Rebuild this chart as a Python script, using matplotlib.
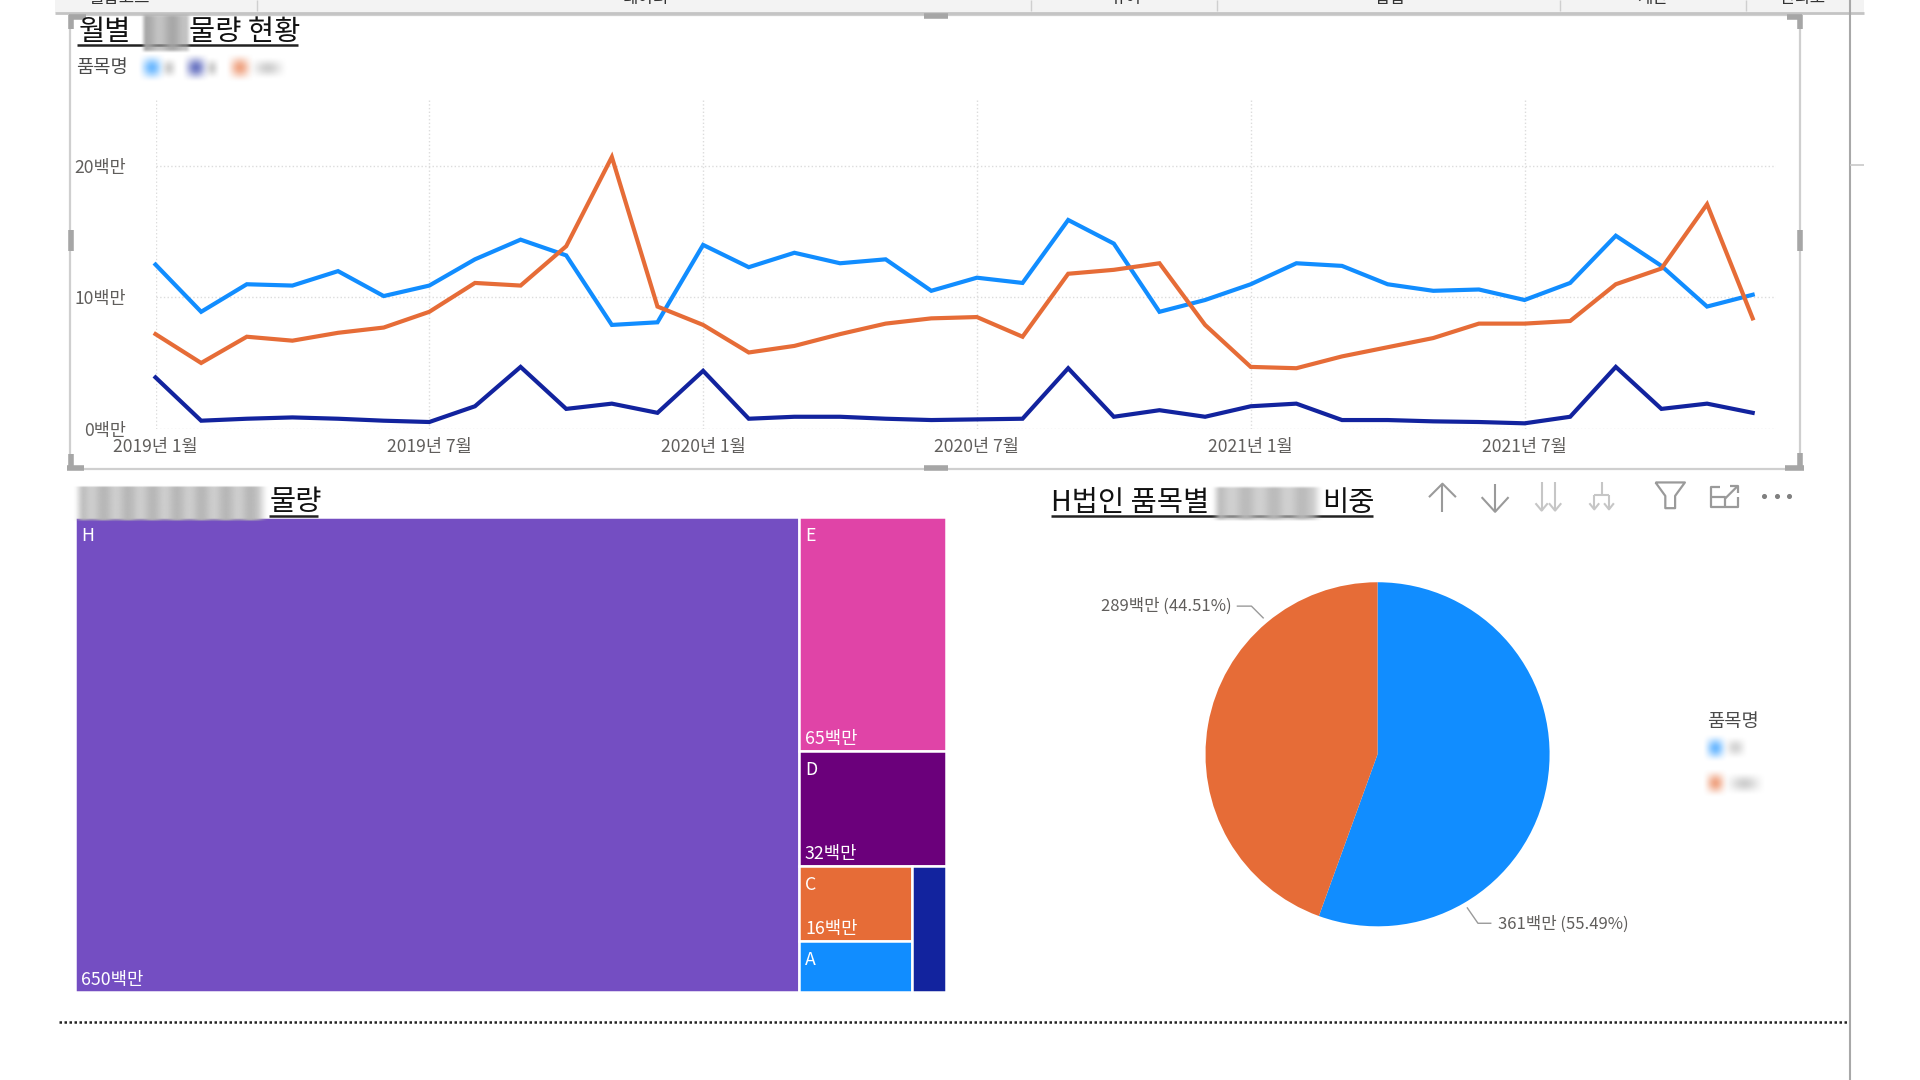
import numpy as np
import matplotlib
matplotlib.use('Agg')
import matplotlib.pyplot as plt
from matplotlib.patches import Rectangle

plt.rcParams['font.family'] = ['Noto Sans CJK KR', 'DejaVu Sans']

# monthly values, millions
month_labels = ['2019년 1월', '2019년 7월', '2020년 1월', '2020년 7월', '2021년 1월', '2021년 7월']
month_ticks = [0, 6, 12, 18, 24, 30]
blue_vals = [12.5, 8.9, 11.0, 10.9, 12.0, 10.1, 10.9, 12.9, 14.4, 13.2, 7.9, 8.1,
             14.0, 12.3, 13.4, 12.6, 12.9, 10.5, 11.5, 11.1, 15.9, 14.1, 8.9, 9.8,
             11.0, 12.6, 12.4, 11.0, 10.5, 10.6, 9.8, 11.1, 14.7, 12.4, 9.3, 10.2]
orange_vals = [7.2, 5.0, 7.0, 6.7, 7.3, 7.7, 8.9, 11.1, 10.9, 13.9, 20.7, 9.3,
               7.9, 5.8, 6.3, 7.2, 8.0, 8.4, 8.5, 7.0, 11.8, 12.1, 12.6, 7.9,
               4.7, 4.6, 5.5, 6.2, 6.9, 8.0, 8.0, 8.2, 11.0, 12.2, 17.1, 8.4]
navy_vals = [3.9, 0.6, 0.75, 0.85, 0.75, 0.6, 0.5, 1.7, 4.7, 1.5, 1.9, 1.2,
             4.4, 0.75, 0.9, 0.9, 0.75, 0.65, 0.7, 0.75, 4.6, 0.9, 1.4, 0.9,
             1.7, 1.9, 0.65, 0.65, 0.55, 0.5, 0.4, 0.9, 4.7, 1.5, 1.9, 1.2]
y_ticks = [0, 10, 20]

# treemap, B has no label in the original
tree_names = ['H', 'E', 'D', 'C', 'A', 'B']
tree_labels = ['H', 'E', 'D', 'C', 'A', '']
tree_vals = [650, 65, 32, 16, 11, 8]
tree_colors = ['#744EC2', '#E044A7', '#6B007B', '#E66C37', '#118DFF', '#12239E']
tree_texts = ['650백만', '65백만', '32백만', '16백만', '', '']

# pie
pie_vals = [361, 289]
pie_colors = ['#118DFF', '#E66C37']

# header strip
header_names = ['월납코드', '데이터', '뷰어', '삽입', '계산', '관리도']
header_x = [97, 527, 919, 1135, 1350, 1472]
header_seps = [210, 842, 994, 1274, 1426]

BLUE, NAVY, ORANGE = '#118DFF', '#12239E', '#E66C37'
GRID = '#dcdcdc'
TXT = '#605E5C'
W, H = 1920, 1080


def p(v):
    return v * W / 1568


def add_axes(fig, x0, y0, x1, y1, **kw):
    return fig.add_axes([p(x0) / W, 1 - p(y1) / H, p(x1 - x0) / W, p(y1 - y0) / H], **kw)


def blur(ax, x0, y0, x1, y1, color, strength=0.6, stripes=0, edge=0.5):
    # soft rectangle standing in for the smudged out text
    xs = np.linspace(0, 1, 80)
    ys = np.linspace(0, 1, 40)
    ex = np.clip(np.minimum(xs, 1 - xs) / edge, 0, 1)
    ey = np.clip(np.minimum(ys, 1 - ys) / edge, 0, 1)
    ex = ex * ex * (3 - 2 * ex)
    ey = ey * ey * (3 - 2 * ey)
    alpha = np.outer(ey, ex) * strength
    if stripes:
        alpha = alpha * (0.85 + 0.15 * np.sin(xs * stripes * 2 * np.pi))
    rgba = np.zeros((40, 80, 4))
    rgba[..., :3] = matplotlib.colors.to_rgb(color)
    rgba[..., 3] = alpha
    ax.imshow(rgba, extent=(p(x0), p(x1), p(y1), p(y0)), aspect='auto', interpolation='bilinear', zorder=5)


fig = plt.figure(figsize=(19.2, 10.8), dpi=100, facecolor='white')

# line chart
ax = add_axes(fig, 127, 80, 1450, 350)
months = np.arange(len(blue_vals))
ax.plot(months, blue_vals, color=BLUE, lw=3, solid_joinstyle='miter', clip_on=False)
ax.plot(months, navy_vals, color=NAVY, lw=3, solid_joinstyle='miter', clip_on=False)
ax.plot(months, orange_vals, color=ORANGE, lw=3, solid_joinstyle='miter', clip_on=False)
ax.set_xlim(0, 35.5)
ax.set_ylim(0, 25.2)
ax.set_xticks(month_ticks)
ax.set_xticklabels(month_labels, fontsize=12.6, color=TXT)
ax.set_yticks(y_ticks)
ax.set_yticklabels([f'{v}백만' for v in y_ticks], fontsize=12.6, color=TXT)
ax.tick_params(axis='x', length=0, pad=6.5)
ax.tick_params(axis='y', length=0, pad=p(127 - 103) * 0.72)
ax.grid(True, color=GRID, ls=':', lw=1)
ax.set_axisbelow(True)
for s in ax.spines.values():
    s.set_visible(False)
ax.patch.set_alpha(0)

# treemap, laid out from the values
tm = add_axes(fig, 61.5, 422.5, 772.5, 810)
tm.set_xlim(0, 1)
tm.set_ylim(1, 0)
tm.axis('off')
total = sum(tree_vals)
rest = total - tree_vals[0]
col_x = tree_vals[0] / total
cells = {'H': (0, 0, col_x, 1)}
y = 0
for n, v in zip(tree_names[1:3], tree_vals[1:3]):
    cells[n] = (col_x, y, 1 - col_x, v / rest)
    y += v / rest
low = sum(tree_vals[3:])
split = col_x + (1 - col_x) * (tree_vals[3] + tree_vals[4]) / low
mid = y + (1 - y) * tree_vals[3] / (tree_vals[3] + tree_vals[4])
cells['C'] = (col_x, y, split - col_x, mid - y)
cells['A'] = (col_x, mid, split - col_x, 1 - mid)
cells['B'] = (split, y, 1 - split, 1 - y)
for n, lab, c, t in zip(tree_names, tree_labels, tree_colors, tree_texts):
    x0, y0, w, h = cells[n]
    tm.add_patch(Rectangle((x0, y0), w, h, facecolor=c, edgecolor='white', lw=1.8))
    if lab:
        tm.annotate(lab, (x0, y0), xytext=(6, -19), xycoords='data', textcoords='offset pixels', color='white',
                    fontsize=12.8, ha='left', va='center')
    if t:
        tm.annotate(t, (x0, y0 + h), xytext=(6, 12), xycoords='data', textcoords='offset pixels', color='white',
                    fontsize=12.8, ha='left', va='center')

# pie
pa = add_axes(fig, 984.5, 475, 1265.5, 757)
pa.pie(pie_vals, colors=pie_colors, startangle=90, counterclock=False, radius=1,
       wedgeprops={'linewidth': 0})
pa.set_xlim(-1, 1)
pa.set_ylim(-1, 1)

# everything else sits on a pixel overlay
ov = fig.add_axes([0, 0, 1, 1], zorder=10)
ov.set_xlim(0, W)
ov.set_ylim(H, 0)
ov.axis('off')
ov.patch.set_alpha(0)


def line(xs, ys, color='#9a9a9a', lw=1.5, **kw):
    ov.plot([p(v) for v in xs], [p(v) for v in ys], color=color, lw=lw, solid_capstyle='butt', **kw)


def label(x, y, s, size=12, color=TXT, ha='left', **kw):
    ov.text(p(x), p(y), s, fontsize=size, color=color, ha=ha, va='center', **kw)


# header strip and window edge
ov.add_patch(Rectangle((p(45), 0), p(1477), p(10.5), facecolor='#f3f3f3', edgecolor='none'))
line([45, 1522], [11, 11], color='#c4c4c4', lw=2)
for v in header_seps:
    line([v, v], [0, 9], color='#cfcfcf', lw=1)
for n, v in zip(header_names, header_x):
    ov.text(p(v), p(-1), n, fontsize=12, color='#333333', ha='center', va='center')
line([1511, 1511], [0, 882], color='#a8a8a8', lw=1.5)
line([1511, 1522], [135, 135], color='#c8c8c8', lw=1.2)

# visual frame and handles
ov.add_patch(Rectangle((p(57), p(12)), p(1413), p(371), facecolor='none', edgecolor='#cfcfcf', lw=1.6))
hc = '#a6a6a6'
for xs, ys in [([56, 70], [14, 14]), ([58, 58], [12, 24]),
               ([1459, 1472], [14, 14]), ([1470, 1470], [12, 24]),
               ([55, 69], [382, 382]), ([58, 58], [371, 384]),
               ([1458, 1473], [382, 382]), ([1470, 1470], [370, 384]),
               ([755, 774], [13, 13]), ([755, 774], [382, 382]),
               ([58, 58], [188, 205]), ([1470, 1470], [188, 205])]:
    line(xs, ys, color=hc, lw=4)

# titles
tkw = dict(size=20.5, color='#111111', fontweight='medium', fontstyle='italic')
label(64, 26, '월별', **tkw)
label(154, 26, '물량 현황', **tkw)
label(220, 410, '물량', **tkw)
label(858, 411, 'H법인 품목별', **tkw)
label(1080, 411, '비중', **tkw)
line([63, 243], [37, 37], color='#222222', lw=1.8)
line([220, 260], [421, 421], color='#222222', lw=1.8)
line([858, 1121], [421, 421], color='#222222', lw=1.8)
# these are boxed smudges, so the edge is tight
blur(ov, 114, 10, 156, 44, '#a4a4a4', 0.95, stripes=2, edge=0.12)
blur(ov, 59, 396, 220, 426, '#b4b4b4', 0.95, stripes=8, edge=0.06)
blur(ov, 988, 396, 1081, 426, '#b8b8b8', 0.95, stripes=4, edge=0.1)

# top legend
label(62, 55, '품목명', size=13.5, color='#4a4a4a')
for x, c, wd in [(124, BLUE, 10), (160, NAVY, 8), (196, ORANGE, 28)]:
    blur(ov, x - 12, 43, x + 12, 68, c, 0.6)
    blur(ov, x + 6, 46, x + 12 + wd, 65, '#8a8a8a', 0.4)

# pie labels and leaders
label(899, 495.5, '289백만 (44.51%)')
line([1010, 1022, 1032], [495, 495, 505], lw=1)
label(1223, 754.5, '361백만 (55.49%)')
line([1218, 1207, 1198], [754, 754, 741], lw=1)

# pie legend
label(1394, 589, '품목명', size=13.5, color='#4a4a4a')
blur(ov, 1390, 599, 1412, 623, BLUE, 0.6)
blur(ov, 1406, 601, 1428, 621, '#8a8a8a', 0.35)
blur(ov, 1390, 628, 1412, 652, ORANGE, 0.6)
blur(ov, 1406, 630, 1442, 650, '#8a8a8a', 0.4)

# visual header icons
line([1178, 1178], [395, 418])
line([1167, 1178, 1189], [406, 395, 406])
line([1221, 1221], [395, 418])
line([1210, 1221, 1232], [406, 418, 406])
lc = '#c6c6c6'
for x in [1259, 1270]:
    line([x, x], [394, 417], color=lc)
    line([x - 5, x, x + 5], [411, 417, 411], color=lc)
line([1308, 1308], [394, 404], color=lc)
line([1302, 1314], [404, 404], color=lc)
for x in [1302, 1314]:
    line([x, x], [404, 416], color=lc)
    line([x - 4, x, x + 4], [411, 416, 411], color=lc)
line([1352, 1376, 1368, 1368, 1360, 1360, 1352], [394, 394, 405, 415, 415, 405, 394], lw=1.6)
line([1405, 1397, 1397, 1419, 1419], [398, 398, 414, 414, 406], lw=1.6)
line([1397, 1409, 1409], [406, 406, 414], lw=1.6)
line([1409, 1419], [407, 397], lw=1.6)
line([1413, 1419, 1419], [397, 397, 403], lw=1.6)
ov.scatter([p(v) for v in (1441, 1451, 1461)], [p(405)] * 3, s=7, color='#808080', zorder=6)

# dotted separator
line([48, 1509], [835, 835], color='#222222', lw=1.8, ls=(0, (1, 1)))

ov.set_xlim(0, W)
ov.set_ylim(H, 0)
fig.savefig('out.png', dpi=100)
